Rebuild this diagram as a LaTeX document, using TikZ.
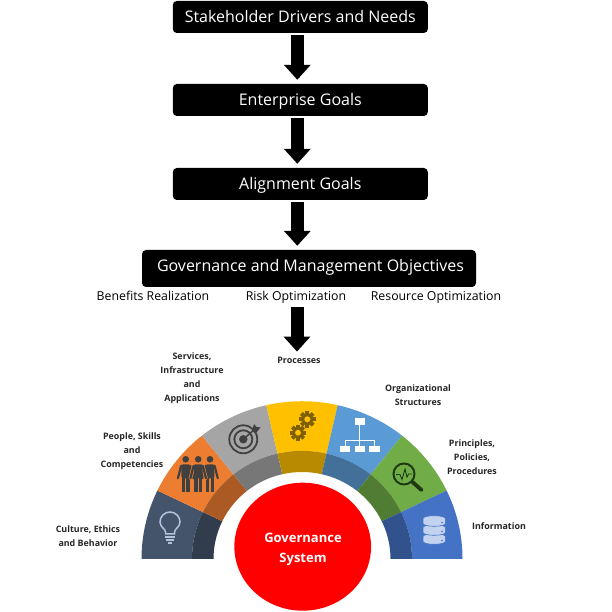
\documentclass[tikz,border=0pt]{standalone}
\usepackage{fontspec}
\setmainfont{Open Sans}
\usetikzlibrary{arrows.meta,calc,shapes.geometric}

\definecolor{fanslate}{HTML}{44546A}
\definecolor{fanorange}{HTML}{ED7D31}
\definecolor{fangrey}{HTML}{A5A5A5}
\definecolor{fangold}{HTML}{FFC000}
\definecolor{fansky}{HTML}{5B9BD5}
\definecolor{fangreen}{HTML}{70AD47}
\definecolor{fanblue}{HTML}{4472C4}
\definecolor{icongrey}{HTML}{404040}
\definecolor{icongold}{HTML}{7F6000}
\definecolor{icongreen}{HTML}{1F3A12}
\definecolor{iconlight}{HTML}{B4C2D6}
\definecolor{icondisc}{HTML}{C3D2EE}

\tikzset{
  stagebox/.style={fill=black, text=white, rounded corners=4pt, minimum height=32pt, text height=14pt, text depth=2pt, font=\fontsize{16}{18}\selectfont},
  bigarrow/.style={line width=13pt, -{Triangle[width=26pt,length=15pt]}, shorten >=4pt, shorten <=2pt},
  dimlabel/.style={font=\fontsize{12.3}{14}\selectfont, inner sep=1pt, text height=10pt, text depth=3pt},
  fanlabel/.style={font=\fontsize{8.9}{14}\selectfont\bfseries, align=center, text=black!85, inner sep=1pt},
}

% one gear: position, outer radius
\newcommand{\gearicon}[3]{
  \fill[icongold] (#1,#2) circle (#3*0.72);
  \foreach \t in {0,45,...,315}
    \fill[icongold, rotate around={\t:(#1,#2)}] ($(#1,#2)+(-#3*0.24,0)$) rectangle ($(#1,#2)+(#3*0.24,#3)$);
  \fill[fangold] (#1,#2) circle (#3*0.36);
}

% one person: head position
\newcommand{\personicon}[2]{
  \begin{scope}[shift={(#1,#2)}]
    \draw[fanorange, line width=3.6pt, line cap=round] (-4.6,-6.5) -- (-7.8,-19);
    \draw[fanorange, line width=3.6pt, line cap=round] (4.6,-6.5) -- (7.8,-19);
    \fill[icongrey] (0,0) circle (3.3);
    \fill[icongrey, rounded corners=1.5pt] (-4.4,-5) rectangle (4.4,-19);
    \fill[icongrey] (-4,-17) rectangle (-0.6,-33);
    \fill[icongrey] (0.6,-17) rectangle (4,-33);
    \draw[icongrey, line width=2.2pt, line cap=round] (-4.6,-6.5) -- (-7.8,-19);
    \draw[icongrey, line width=2.2pt, line cap=round] (4.6,-6.5) -- (7.8,-19);
  \end{scope}
}

\begin{document}
\begin{tikzpicture}[x=1pt, y=1pt]
  \useasboundingbox (0,0) rectangle (612,612);

  % Stages
  \node[stagebox, minimum width=255pt] (drivers) at (300.3,595) {Stakeholder Drivers and Needs};
  \node[stagebox, minimum width=255pt] (enterprise) at (300.3,512) {Enterprise Goals};
  \node[stagebox, minimum width=255pt] (alignment) at (300.3,428) {Alignment Goals};
  \node[stagebox, minimum width=334pt, minimum height=37pt, text depth=7pt] (objectives) at (309,343.5) {\hspace*{3pt}Governance and Management Objectives};

  % Design factors under the last stage
  \node[dimlabel] (benefits) at (153,314.5) {Benefits Realization};
  \node[dimlabel] (risk) at (296,314.5) {Risk Optimization};
  \node[dimlabel] (resource) at (436,314.5) {Resource Optimization};

  % Fan labels
  \node[fanlabel] (processes) at (299,252) {Processes};
  \node[fanlabel] (services) at (192,234) {Services,\\Infrastructure\\and\\Applications};
  \node[fanlabel] (people) at (132,161) {People, Skills\\and\\Competencies};
  \node[fanlabel] (culture) at (88,76) {Culture, Ethics\\and Behavior};
  \node[fanlabel] (structures) at (418,217) {Organizational\\Structures};
  \node[fanlabel] (principles) at (472,155) {Principles,\\Policies,\\Procedures};
  \node[fanlabel] (information) at (499,86) {Information};

  % Arrows
  \draw[bigarrow] ([xshift=-3pt]drivers.south) -- ([xshift=-3pt]enterprise.north);
  \draw[bigarrow] ([xshift=-3pt]enterprise.south) -- ([xshift=-3pt]alignment.north);
  \draw[bigarrow] ([xshift=-3pt]alignment.south) -- ([xshift=-3pt]objectives.north-|alignment.south);
  \draw[bigarrow] ([xshift=1pt]risk.south) -- ([xshift=-2pt]processes.north);

  % Fan of seven components
  \begin{scope}[shift={(302,53)}, yscale=0.983]
    \foreach \col [count=\i from 0] in {fanslate,fanorange,fangrey,fangold,fansky,fangreen,fanblue} {
      \pgfmathsetmacro{\a}{180-\i*180/7}
      \pgfmathsetmacro{\b}{180-(\i+1)*180/7}
      \fill[\col] (\a:110) -- (\a:160.5) arc[start angle=\a, end angle=\b, radius=160.5pt]
        -- (\b:110) arc[start angle=\b, end angle=\a, radius=110pt] -- cycle;
      \fill[\col!72!black] (\a:88.5) -- (\a:110) arc[start angle=\a, end angle=\b, radius=110pt]
        -- (\b:88.5) arc[start angle=\b, end angle=\a, radius=88.5pt] -- cycle;
    }
  \end{scope}

  % Centre
  \node[ellipse, fill=red, minimum width=136.7pt, minimum height=128pt, inner sep=0pt] (system) at (302.7,65.3) {};
  \node[text=white, font=\fontsize{13}{20}\selectfont\bfseries, align=center] (systemtext) at (303,63) {Governance\\System};

  % Bulb
  \draw[iconlight, line width=1.5pt] (165.5,78) -- (165.5,80) .. controls (165.5,83) and (160,85) .. (160,90)
    arc[start angle=180, end angle=0, radius=10pt] .. controls (180,85) and (174.5,83) .. (174.5,80) -- (174.5,78) -- cycle;
  \draw[iconlight, line width=1.5pt] (165,75) -- (175,75);
  \draw[iconlight, line width=1.5pt] (166,72) -- (174,72);
  \draw[iconlight, line width=1.5pt] (168,69) -- (172,69);

  % People
  \personicon{185.7}{152.7}
  \personicon{210}{152.7}
  \personicon{198.2}{152.7}

  % Target
  \draw[icongrey, line width=1.8pt] (243.3,172.7) circle (14);
  \draw[icongrey, line width=1.8pt] (243.3,172.7) circle (9);
  \fill[icongrey] (243.3,172.7) circle (4.2);
  \draw[icongrey, line width=1.4pt] (243.3,172.7) -- (255,183);
  \fill[icongrey] (252,181) -- (254,188) -- (256.5,185) -- (260.5,184.5) -- (256,179) -- cycle;

  % Gears
  \gearicon{307.3}{192.7}{8.3}
  \gearicon{298}{179.3}{8}

  % Org chart
  \fill[white] (354.7,187) rectangle (364.7,194);
  \foreach \x in {345,359.7,374.3}
    \fill[white] (\x-5.2,160) rectangle (\x+5.2,166.3);
  \draw[white, line width=1pt] (359.7,187) -- (359.7,166);
  \draw[white, line width=1pt] (345,166) -- (345,171.5) -- (374.3,171.5) -- (374.3,166);

  % Magnifier
  \draw[icongreen, line width=2pt] (404,138) circle (10.5);
  \draw[icongreen, line width=3.8pt, line cap=round] (412.5,130) -- (421.5,122);
  \draw[icongreen, line width=0.9pt] (396,137.5) -- (400,137.5) -- (402,132.5) -- (405,143) -- (407,135) -- (408.5,138) -- (412,138);

  % Database
  \foreach \y in {70.5,79.5,88.5} {
    \path[fill=icondisc, draw=fanblue, line width=0.6pt] (423,\y+5) -- (423,\y)
      arc[start angle=180, end angle=360, x radius=11.2pt, y radius=2.8pt] -- (445.4,\y+5)
      arc[start angle=0, end angle=180, x radius=11.2pt, y radius=2.8pt] -- cycle;
    \fill[fanblue] (442,\y+1) circle (0.8);
  }
\end{tikzpicture}
\end{document}
